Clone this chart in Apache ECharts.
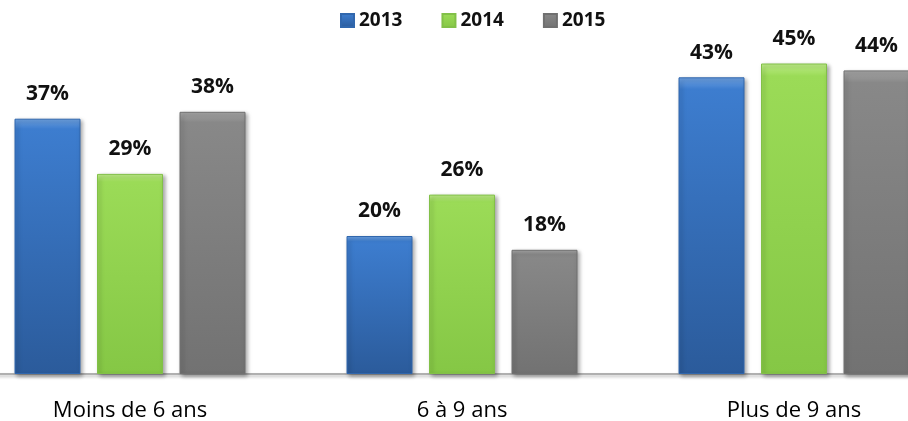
<!DOCTYPE html>
<html>
<head>
<meta charset="utf-8">
<script src="https://cdn.jsdelivr.net/npm/echarts@6/dist/echarts.min.js"></script>
<style>
html, body { margin: 0; padding: 0; background: #fff; }
#graph { width: 908px; height: 421px; }
</style>
</head>
<body>
<div id="graph"></div>
<script>
var categories = ['Moins de 6 ans', '6 à 9 ans', 'Plus de 9 ans'];
var years = ['2013', '2014', '2015'];
var values2013 = [37, 20, 43];
var values2014 = [29, 26, 45];
var values2015 = [38, 18, 44];

var font = "'Open Sans', 'Liberation Sans', sans-serif";

// couleurs : haut clair, corps, bas sombre
function barColor(light, main, dark) {
    return new echarts.graphic.LinearGradient(0, 0, 0, 1, [
        {offset: 0, color: light},
        {offset: 0.04, color: main},
        {offset: 1, color: dark}
    ]);
}

var colors = [
    barColor('#6fa3e3', '#3d7dcf', '#2b5b9b'),
    barColor('#c0ee8a', '#9bdb57', '#85c745'),
    barColor('#a8a8a8', '#888888', '#727272')
];
var borders = ['#3167ad', '#82c048', '#707070'];

function makeSeries(name, data, idx) {
    return {
        name: name,
        type: 'bar',
        data: data,
        barWidth: 66,
        barGap: '25%',
        itemStyle: {
            color: colors[idx],
            borderColor: borders[idx],
            borderWidth: 1,
            shadowColor: 'rgba(0,0,0,0.35)',
            shadowBlur: 4,
            shadowOffsetX: 2,
            shadowOffsetY: 2
        },
        label: {
            show: true,
            position: 'top',
            distance: 14,
            formatter: '{c}%',
            fontFamily: font,
            fontWeight: 'bold',
            fontSize: 21,
            color: '#111'
        }
    };
}

var myChart = echarts.init(document.getElementById('graph'));

var option = {
    animation: false,
    legend: {
        data: years,
        left: 335,
        top: 6,
        icon: 'rect',
        itemWidth: 13,
        itemHeight: 13,
        itemGap: 39,
        textStyle: {
            fontFamily: font,
            fontWeight: 'bold',
            fontSize: 19,
            color: '#111'
        }
    },
    grid: {
        left: -36,
        width: 996,
        top: 29,
        bottom: 47,
        containLabel: false,
        outerBoundsMode: 'none'
    },
    xAxis: {
        type: 'category',
        data: categories,
        axisTick: {show: false},
        axisLine: {lineStyle: {color: '#b0b0b0', width: 2, shadowColor: 'rgba(0,0,0,0.25)', shadowBlur: 3, shadowOffsetY: 2}},
        axisLabel: {
            margin: 26,
            fontFamily: font,
            fontSize: 22,
            color: '#000'
        }
    },
    yAxis: {
        type: 'value',
        min: 0,
        max: 50,
        show: false,
        splitLine: {show: false}
    },
    series: [
        makeSeries(years[0], values2013, 0),
        makeSeries(years[1], values2014, 1),
        makeSeries(years[2], values2015, 2)
    ]
};

myChart.setOption(option);
</script>
</body>
</html>
